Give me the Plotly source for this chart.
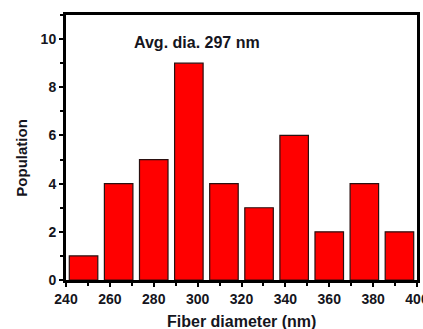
import plotly.graph_objects as go

bin_centers = [248, 264, 280, 296, 312, 328, 344, 360, 376, 392]
population = [1, 4, 5, 9, 4, 3, 6, 2, 4, 2]
x_ticks = [240, 260, 280, 300, 320, 340, 360, 380, 400]
y_ticks = [0, 2, 4, 6, 8, 10]
note = "Avg. dia. 297 nm"
x_title = "Fiber diameter (nm)"
y_title = "Population"

FONT = "Liberation Sans, Arial, sans-serif"
TXT = "#151520"

fig = go.Figure()
fig.add_trace(go.Bar(
    x=bin_centers, y=population, width=13,
    marker=dict(color="#ff0000", line=dict(color="#2a1010", width=1.2)),
))

axis_common = dict(
    showline=True, linewidth=3, linecolor="black", mirror=True,
    ticks="outside", ticklen=4, tickwidth=2, tickcolor="black",
    showgrid=False, zeroline=False, ticklabeloverflow="allow",
    automargin=False,
    tickfont=dict(family=FONT, size=14, color=TXT, weight="bold"),
)

fig.update_xaxes(
    range=[240, 400], tickvals=x_ticks,
    minor=dict(ticks="outside", ticklen=3, tickwidth=2, tickcolor="black", dtick=10, tick0=240, showgrid=False),
    **axis_common,
)
fig.update_yaxes(
    range=[0, 11], tickvals=y_ticks,
    minor=dict(ticks="outside", ticklen=3, tickwidth=2, tickcolor="black", dtick=1, tick0=0, showgrid=False),
    **axis_common,
)

fig.add_annotation(
    text=note, xref="paper", yref="paper", x=0.373, y=0.898,
    xanchor="center", yanchor="middle",
    showarrow=False, font=dict(family=FONT, size=16, color=TXT, weight="bold"),
)
# axis titles placed as annotations for exact positioning
fig.add_annotation(
    text=x_title, xref="paper", yref="paper", x=0.5, y=-0.155,
    xanchor="center", yanchor="middle",
    showarrow=False, font=dict(family=FONT, size=16, color=TXT, weight="bold"),
)
fig.add_annotation(
    text=y_title, xref="paper", yref="paper", x=-0.128, y=0.462, textangle=-90,
    xanchor="center", yanchor="middle",
    showarrow=False, font=dict(family=FONT, size=15, color=TXT, weight="bold"),
)

fig.update_layout(
    width=423, height=329,
    margin=dict(l=66, r=6, t=15, b=49),
    plot_bgcolor="white", paper_bgcolor="white",
    showlegend=False,
)

fig.write_html("out.html")
